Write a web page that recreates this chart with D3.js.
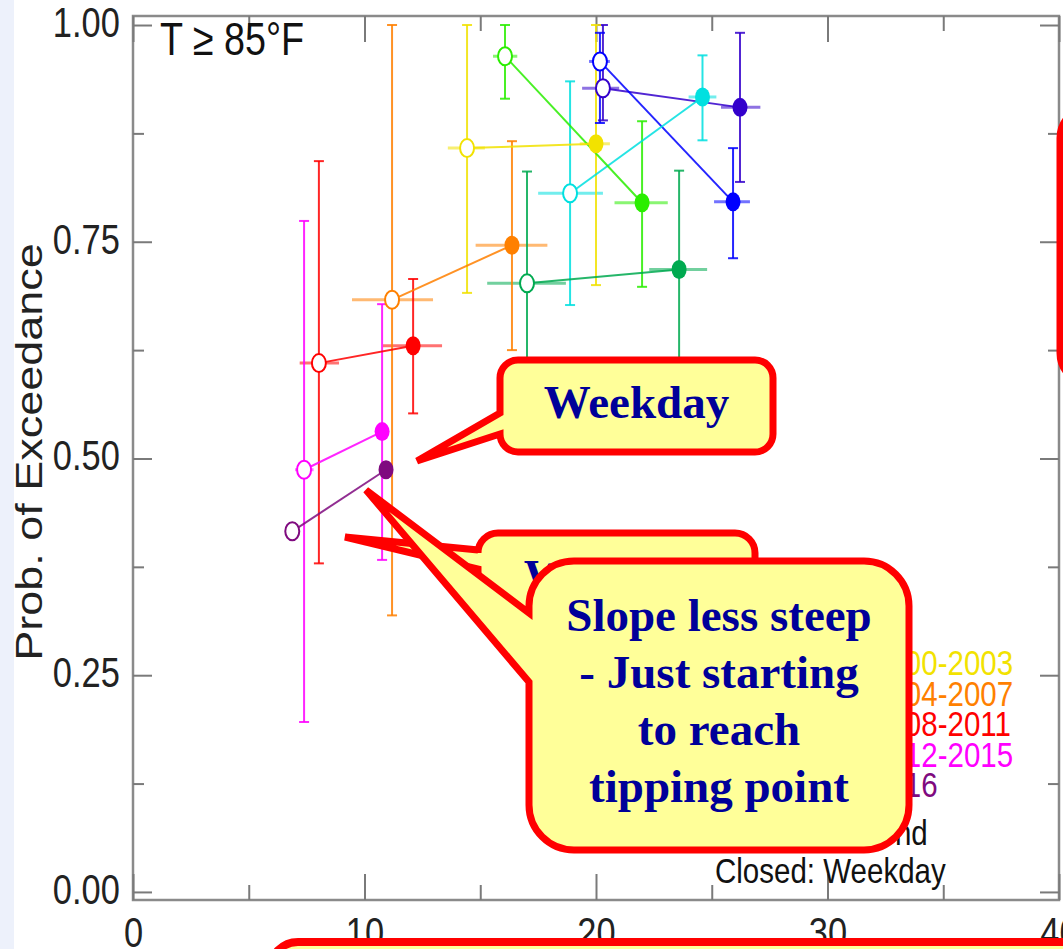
<!DOCTYPE html>
<html>
<head>
<meta charset="utf-8">
<script src="https://cdn.jsdelivr.net/npm/d3@7"></script>
<style>
  html, body { margin: 0; padding: 0; background: #fff; }
  svg { display: block; }
</style>
</head>
<body>
<svg id="chart" width="1063" height="949"></svg>
<script>
// series run from the earliest period (indigo) to the latest (purple);
// the earlier legend entries sit under the callout, only the last ones show
const seriesNames = ["indigo", "blue", "cyan", "darkgreen", "green", "yellow", "orange", "red", "magenta", "purple"];
const legendLabels = ["2000-2003", "2004-2007", "2008-2011", "2012-2015", "2016"];
const legendSeries = ["yellow", "orange", "red", "magenta", "purple"];

// open symbols: weekend
const weekendX   = [20.3, 20.17, 18.88, 17.02, 16.07, 14.43, 11.19, 8.03, 7.39, 6.88];
const weekendP   = [0.927, 0.958, 0.806, 0.702, 0.964, 0.858, 0.683, 0.610, 0.487, 0.416];
const weekendXLo = [19.4, 19.7, 17.5, 15.3, 15.55, 13.6, 9.46, 7.2, 7.0, null];
const weekendXHi = [21.0, 20.6, 20.3, 18.7, 16.6, 15.2, 12.96, 8.9, 7.8, null];
const weekendPLo = [0.89, 0.887, 0.677, 0.57, 0.915, 0.691, 0.319, 0.379, 0.196, null];
const weekendPHi = [1.0, 0.991, 0.935, 0.831, 1.0, 1.0, 1.0, 0.843, 0.774, null];

// closed symbols: weekday
const weekdayX   = [26.22, 25.92, 24.6, 23.59, 21.99, 20.0, 16.37, 12.1, 10.76, 10.93];
const weekdayP   = [0.905, 0.796, 0.917, 0.718, 0.795, 0.863, 0.746, 0.630, 0.531, 0.487];
const weekdayXLo = [25.4, 25.1, 24.0, 22.3, 20.8, 19.3, 14.8, 10.8, 10.6, null];
const weekdayXHi = [27.1, 26.65, 25.2, 24.8, 23.1, 20.6, 17.9, 13.35, 10.9, null];
const weekdayPLo = [0.819, 0.731, 0.867, 0.60, 0.698, 0.700, 0.625, 0.552, 0.383, null];
const weekdayPHi = [0.991, 0.858, 0.965, 0.832, 0.889, 1.0, 0.866, 0.707, 0.678, null];

const xMajor = [0, 10, 20, 30, 40];
const xMinor = [5, 15, 25, 35];
const yMajor = [0, 0.25, 0.5, 0.75, 1.0];
const yMinor = [0.125, 0.375, 0.625, 0.875];

const colors = {
  indigo: "#3300cc", blue: "#0000ff", cyan: "#00e0e0", darkgreen: "#00aa50",
  green: "#2aee00", yellow: "#f2e200", orange: "#ff8000", red: "#ff0000",
  magenta: "#ff00ff", purple: "#7f0a7f"
};

const svg = d3.select("#chart");
const sans = "'Liberation Sans', Arial, Helvetica, sans-serif";
const serif = "'Liberation Serif', 'Times New Roman', serif";
const squeeze = 0.82;  // the original figure was squashed sideways

svg.append("rect").attr("width", 1063).attr("height", 949).attr("fill", "#fff");
svg.append("rect").attr("width", 14).attr("height", 949).attr("fill", "#edf1fb");

const x = d3.scaleLinear().domain([0, 40]).range([133, 1059]);
const y = d3.scaleLinear().domain([-0.0093, 1.0104]).range([900, 16]);
const [xl, xr] = x.range();
const [yb, yt] = y.range();

// frame
svg.append("rect")
  .attr("x", xl).attr("y", yt)
  .attr("width", xr - xl).attr("height", yb - yt)
  .attr("fill", "none").attr("stroke", "#8a8a8a").attr("stroke-width", 2.5);

function tidy(g) {
  g.select(".domain").remove();
  g.selectAll(".tick line").attr("stroke", "#7a7a7a").attr("stroke-width", 2);
  g.attr("font-family", sans).attr("font-size", 42);
  g.selectAll(".tick text").attr("fill", "#222").attr("transform", `scale(${squeeze},1)`);
}

svg.append("g").attr("transform", `translate(0,${yb})`)
  .call(d3.axisBottom(x).tickValues(xMajor).tickSize(-26).tickPadding(17).tickFormat(d3.format("d")))
  .call(tidy);
svg.append("g").attr("transform", `translate(0,${yb})`)
  .call(d3.axisBottom(x).tickValues(xMinor).tickSize(-15).tickFormat(""))
  .call(tidy);
svg.append("g").attr("transform", `translate(0,${yt})`)
  .call(d3.axisTop(x).tickValues(xMajor).tickSize(-26).tickFormat(""))
  .call(tidy);
svg.append("g").attr("transform", `translate(0,${yt})`)
  .call(d3.axisTop(x).tickValues(xMinor).tickSize(-15).tickFormat(""))
  .call(tidy);

svg.append("g").attr("transform", `translate(${xl},0)`)
  .call(d3.axisLeft(y).tickValues(yMajor).tickSize(-19).tickPadding(16).tickFormat(d3.format(".2f")))
  .call(tidy)
  .selectAll(".tick text").attr("dy", "0.27em");
svg.append("g").attr("transform", `translate(${xl},0)`)
  .call(d3.axisLeft(y).tickValues(yMinor).tickSize(-11).tickFormat(""))
  .call(tidy);
svg.append("g").attr("transform", `translate(${xr},0)`)
  .call(d3.axisRight(y).tickValues(yMajor).tickSize(-19).tickFormat(""))
  .call(tidy);
svg.append("g").attr("transform", `translate(${xr},0)`)
  .call(d3.axisRight(y).tickValues(yMinor).tickSize(-11).tickFormat(""))
  .call(tidy);

// axis title
svg.append("text")
  .attr("transform", `translate(42,452) scale(${squeeze},1) rotate(-90)`)
  .attr("text-anchor", "middle")
  .attr("font-family", sans).attr("font-size", 45).attr("fill", "#222")
  .text("Prob. of Exceedance");

svg.append("text")
  .attr("transform", `translate(160,55) scale(${squeeze},1)`)
  .attr("font-family", sans).attr("font-size", 46).attr("fill", "#111")
  .text("T \u2265 85\u00B0F");

// points
const points = [];
seriesNames.forEach((s, i) => {
  points.push({ s, kind: "open", x: weekendX[i], p: weekendP[i],
    xlo: weekendXLo[i], xhi: weekendXHi[i], plo: weekendPLo[i], phi: weekendPHi[i] });
  points.push({ s, kind: "closed", x: weekdayX[i], p: weekdayP[i],
    xlo: weekdayXLo[i], xhi: weekdayXHi[i], plo: weekdayPLo[i], phi: weekdayPHi[i] });
});
const withErr = points.filter(d => d.xlo != null);

const plot = svg.append("g");

// x error bars
plot.selectAll("line.xerr").data(withErr).join("line")
  .attr("class", "xerr")
  .attr("x1", d => x(d.xlo)).attr("x2", d => x(d.xhi))
  .attr("y1", d => y(d.p)).attr("y2", d => y(d.p))
  .attr("stroke", d => colors[d.s]).attr("stroke-width", 3).attr("opacity", 0.55);

// y error bars with caps
plot.selectAll("line.yerr").data(withErr).join("line")
  .attr("class", "yerr")
  .attr("x1", d => x(d.x)).attr("x2", d => x(d.x))
  .attr("y1", d => y(d.plo)).attr("y2", d => y(d.phi))
  .attr("stroke", d => colors[d.s]).attr("stroke-width", 2).attr("opacity", 0.85);
const caps = withErr.flatMap(d => [{ s: d.s, x: d.x, p: d.plo }, { s: d.s, x: d.x, p: d.phi }]);
plot.selectAll("line.cap").data(caps).join("line")
  .attr("class", "cap")
  .attr("x1", d => x(d.x) - 5).attr("x2", d => x(d.x) + 5)
  .attr("y1", d => y(d.p)).attr("y2", d => y(d.p))
  .attr("stroke", d => colors[d.s]).attr("stroke-width", 2).attr("opacity", 0.85);

// weekend -> weekday connectors
plot.selectAll("line.link").data(seriesNames).join("line")
  .attr("class", "link")
  .attr("x1", (s, i) => x(weekendX[i])).attr("y1", (s, i) => y(weekendP[i]))
  .attr("x2", (s, i) => x(weekdayX[i])).attr("y2", (s, i) => y(weekdayP[i]))
  .attr("stroke", s => colors[s]).attr("stroke-width", 2).attr("opacity", 0.85);

plot.selectAll("ellipse.mark").data(points).join("ellipse")
  .attr("class", "mark")
  .attr("cx", d => x(d.x)).attr("cy", d => y(d.p))
  .attr("rx", d => d.kind === "open" ? 7 : 7.5)
  .attr("ry", d => d.kind === "open" ? 9 : 9.5)
  .attr("fill", d => d.kind === "open" ? "#fff" : colors[d.s])
  .attr("stroke", d => colors[d.s])
  .attr("stroke-width", d => d.kind === "open" ? 2 : 0);

// legend
const legend = svg.append("g").attr("font-family", sans).attr("font-size", 36);
legend.selectAll("text.period").data(legendLabels).join("text")
  .attr("class", "period")
  .attr("transform", (d, i) => `translate(872,${675 + i * 30.5}) scale(${squeeze},1)`)
  .attr("fill", (d, i) => colors[legendSeries[i]])
  .text(d => d);
legend.selectAll("text.kind").data(["Open: Weekend", "Closed: Weekday"]).join("text")
  .attr("class", "kind")
  .attr("transform", (d, i) => `translate(715,${845 + i * 38}) scale(${squeeze},1)`)
  .attr("fill", "#111")
  .text(d => d);

// callouts pasted on top of the chart
function calloutPath(b, tip, baseTop, baseBot) {
  const { x0, y0, x1, y1, r } = b;
  return `M${x0 + r},${y0} H${x1 - r} A${r},${r} 0 0 1 ${x1},${y0 + r} V${y1 - r}` +
    ` A${r},${r} 0 0 1 ${x1 - r},${y1} H${x0 + r} A${r},${r} 0 0 1 ${x0},${y1 - r}` +
    ` V${baseBot} L${tip[0]},${tip[1]} L${x0},${baseTop} V${y0 + r}` +
    ` A${r},${r} 0 0 1 ${x0 + r},${y0} Z`;
}
const notes = svg.append("g");
function callout(b, tip, baseTop, baseBot, lines, firstBaseline) {
  notes.append("path")
    .attr("d", calloutPath(b, tip, baseTop, baseBot))
    .attr("fill", "#ffff99").attr("stroke", "#ff0000").attr("stroke-width", 7)
    .attr("stroke-linejoin", "miter").attr("stroke-miterlimit", 3);
  notes.append("g").selectAll("text").data(lines).join("text")
    .attr("x", (b.x0 + b.x1) / 2)
    .attr("y", (d, i) => firstBaseline + i * 57)
    .attr("text-anchor", "middle")
    .attr("font-family", serif).attr("font-weight", "bold").attr("font-size", 47)
    .attr("fill", "#000099")
    .text(d => d);
}

callout({ x0: 500, y0: 360, x1: 773, y1: 452, r: 18 }, [417, 461], 413, 434, ["Weekday"], 418);
callout({ x0: 478, y0: 533, x1: 755, y1: 628, r: 20 }, [345, 537], 550, 569, ["Weekend"], 592);
callout({ x0: 529, y0: 561, x1: 909, y1: 850, r: 45 }, [366, 490], 613, 682,
  ["Slope less steep", "- Just starting", "to reach", "tipping point"], 631);

// edges of two more callouts that fall outside the picture
notes.append("rect").attr("x", 1061).attr("y", 108).attr("width", 300).attr("height", 275).attr("rx", 30)
  .attr("fill", "#ffff99").attr("stroke", "#ff0000").attr("stroke-width", 9);
notes.append("rect").attr("x", 270).attr("y", 942).attr("width", 900).attr("height", 200).attr("rx", 28)
  .attr("fill", "#ffff99").attr("stroke", "#ff0000").attr("stroke-width", 8);
</script>
</body>
</html>
